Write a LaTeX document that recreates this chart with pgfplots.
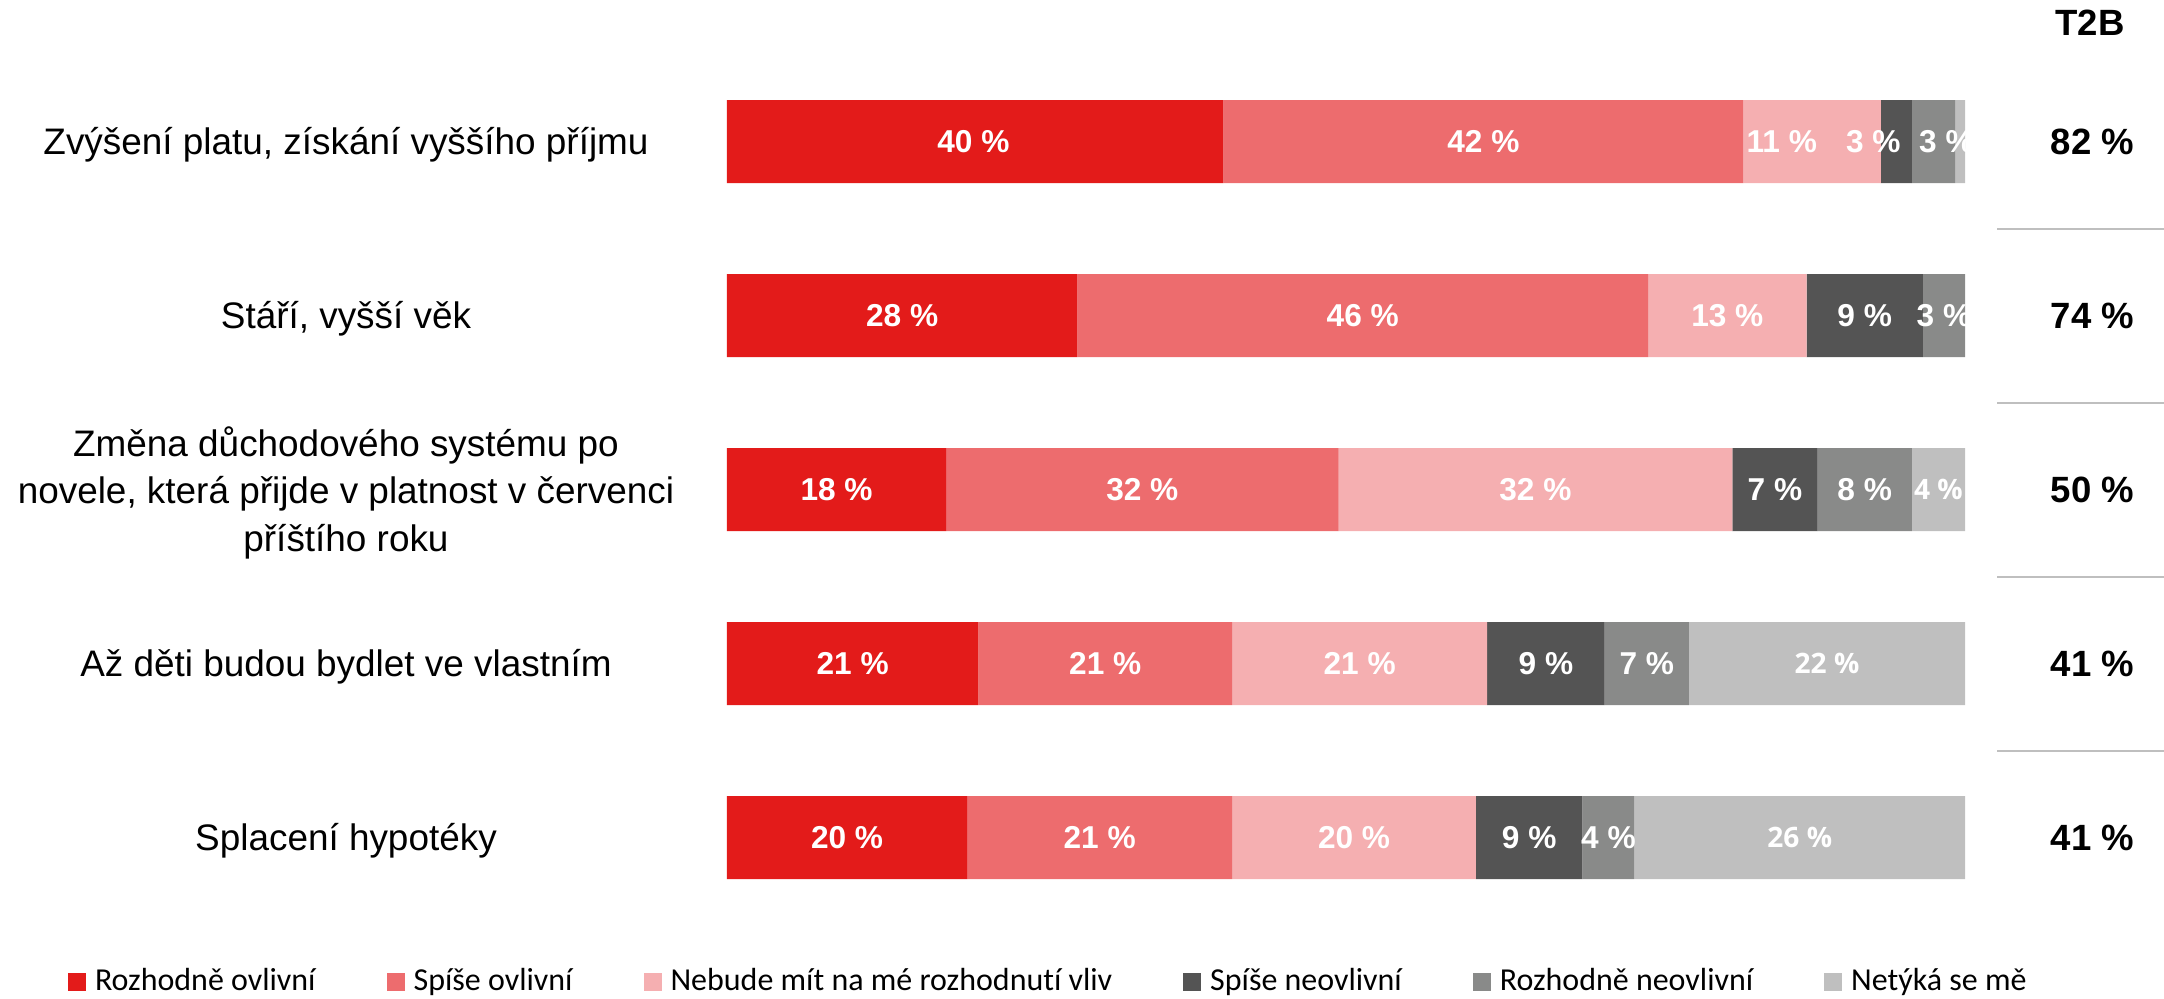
\documentclass[border=0pt]{standalone}
\usepackage{pgfplots}
\pgfplotsset{compat=1.18}
\usepackage{pgfplotstable}
\usepackage{fontspec}
\setmainfont{Liberation Sans}
\newfontfamily\carlito[Ligatures={NoCommon}]{Carlito}
\newfontfamily\osans{Open Sans}
\definecolor{c1}{HTML}{E31B1A}
\definecolor{c2}{HTML}{ED6C6E}
\definecolor{c3}{HTML}{F5AFB1}
\definecolor{c4}{HTML}{545454}
\definecolor{c5}{HTML}{898A89}
\definecolor{c6}{HTML}{BFBFBF}
\tikzset{
  lab/.style={font=\bfseries\fontsize{9}{10}\selectfont, text=white},
  labo/.style={font=\osans\bfseries\fontsize{8}{10}\selectfont, text=white},
  tb/.style={font=\bfseries\fontsize{10.4}{12}\selectfont},
}
\pgfplotsset{
  sq/.style={legend image code/.code={\fill[#1] (0cm,-0.09cm) rectangle (0.18cm,0.09cm); \path (0.27cm,0cm);}},
}
\pgfplotstableread{
y a b c d e f
0 40.1 42.0 11.1 2.5 3.5 0.8
1 28.3 46.1 12.8 9.4 3.4 0.0
2 17.7 31.7 31.8 6.9 7.6 4.3
3 20.3 20.5 20.6 9.5 6.8 22.3
4 19.4 21.4 19.7 8.6 4.2 26.7
}\data
\begin{document}
\begin{tikzpicture}
\useasboundingbox (0,0) rectangle (21.64,-9.98);
\begin{axis}[
  at={(7.27cm,-0.545cm)}, anchor=north west,
  width=12.38cm, height=8.7cm, scale only axis,
  xbar stacked, bar width=0.83cm,
  xmin=0, xmax=100, ymin=-0.5, ymax=4.5, y dir=reverse,
  axis line style={draw=none}, tick style={draw=none},
  xtick=\empty,
  ytick={0,1,2,3,4},
  yticklabels={{Zvýšení platu, získání vyššího příjmu},{Stáří, vyšší věk},{Změna důchodového systému po\\novele, která přijde v platnost v červenci\\příštího roku},{Až děti budou bydlet ve vlastním},{Splacení hypotéky}},
  yticklabel style={anchor=center, xshift=-3.81cm, yshift=-0.03cm, align=center, font=\fontsize{10.5}{13.5}\selectfont},
  legend columns=6,
  legend style={draw=none, fill=none, at={(-0.5323,-0.0661)}, anchor=west, inner sep=0pt, outer sep=0pt,
    font=\carlito\fontsize{9.1}{10}\selectfont,
    nodes={inner sep=0pt, outer sep=0pt},
    /tikz/every even column/.append style={column sep=0.71cm}},
]
\addplot[fill=c1, draw=none, sq=c1] table[x=a,y=y]{\data};
\addlegendentry{Rozhodně ovlivní}
\addplot[fill=c2, draw=none, sq=c2] table[x=b,y=y]{\data};
\addlegendentry{Spíše ovlivní}
\addplot[fill=c3, draw=none, sq=c3] table[x=c,y=y]{\data};
\addlegendentry{Nebude mít na mé rozhodnutí vliv}
\addplot[fill=c4, draw=none, sq=c4] table[x=d,y=y]{\data};
\addlegendentry{Spíše neovlivní}
\addplot[fill=c5, draw=none, sq=c5] table[x=e,y=y]{\data};
\addlegendentry{Rozhodně neovlivní}
\addplot[fill=c6, draw=none, sq=c6] table[x=f,y=y]{\data};
\addlegendentry{Netýká se mě}
\coordinate (cA) at (axis cs:0,-0.5);
\coordinate (cB) at (axis cs:100,4.5);
\coordinate (a1) at (axis cs:19.9,0);
\coordinate (a2) at (axis cs:61.1,0);
\coordinate (a3) at (axis cs:85.2,0);
\coordinate (a4) at (axis cs:92.6,0);
\coordinate (a5) at (axis cs:98.5,0);
\coordinate (b1) at (axis cs:14.15,1);
\coordinate (b2) at (axis cs:51.35,1);
\coordinate (b3) at (axis cs:80.8,1);
\coordinate (b4) at (axis cs:91.9,1);
\coordinate (b5) at (axis cs:98.3,1);
\coordinate (d1) at (axis cs:8.85,2);
\coordinate (d2) at (axis cs:33.55,2);
\coordinate (d3) at (axis cs:65.3,2);
\coordinate (d4) at (axis cs:84.65,2);
\coordinate (d5) at (axis cs:91.9,2);
\coordinate (d6) at (axis cs:97.85,2);
\coordinate (e1) at (axis cs:10.15,3);
\coordinate (e2) at (axis cs:30.55,3);
\coordinate (e3) at (axis cs:51.1,3);
\coordinate (e4) at (axis cs:66.15,3);
\coordinate (e5) at (axis cs:74.3,3);
\coordinate (e6) at (axis cs:88.85,3);
\coordinate (f1) at (axis cs:9.7,4);
\coordinate (f2) at (axis cs:30.1,4);
\coordinate (f3) at (axis cs:50.65,4);
\coordinate (f4) at (axis cs:64.8,4);
\coordinate (f5) at (axis cs:71.2,4);
\coordinate (f6) at (axis cs:86.65,4);
\coordinate (h) at (axis cs:110.1,-0.681);
\coordinate (t0) at (axis cs:110.3,0);
\coordinate (t1) at (axis cs:110.3,1);
\coordinate (t2) at (axis cs:110.3,2);
\coordinate (t3) at (axis cs:110.3,3);
\coordinate (t4) at (axis cs:110.3,4);
\coordinate (s0a) at (axis cs:102.6,0.5);
\coordinate (s1a) at (axis cs:102.6,1.5);
\coordinate (s2a) at (axis cs:102.6,2.5);
\coordinate (s3a) at (axis cs:102.6,3.5);
\coordinate (s0b) at (axis cs:116.1,0.5);
\coordinate (s1b) at (axis cs:116.1,1.5);
\coordinate (s2b) at (axis cs:116.1,2.5);
\coordinate (s3b) at (axis cs:116.1,3.5);
\end{axis}
\begin{scope}
\clip (cA) rectangle (cB);
\node[lab] at (a1) {40 \%};
\node[lab] at (a2) {42 \%};
\node[lab] at (a3) {11 \%};
\node[lab] at (a4) {3 \%};
\node[lab] at (a5) {3 \%};
\node[lab] at (b1) {28 \%};
\node[lab] at (b2) {46 \%};
\node[lab] at (b3) {13 \%};
\node[lab] at (b4) {9 \%};
\node[lab] at (b5) {3 \%};
\node[lab] at (d1) {18 \%};
\node[lab] at (d2) {32 \%};
\node[lab] at (d3) {32 \%};
\node[lab] at (d4) {7 \%};
\node[lab] at (d5) {8 \%};
\node[labo] at (d6) {4 \%};
\node[lab] at (e1) {21 \%};
\node[lab] at (e2) {21 \%};
\node[lab] at (e3) {21 \%};
\node[lab] at (e4) {9 \%};
\node[lab] at (e5) {7 \%};
\node[labo] at (e6) {22 \%};
\node[lab] at (f1) {20 \%};
\node[lab] at (f2) {21 \%};
\node[lab] at (f3) {20 \%};
\node[lab] at (f4) {9 \%};
\node[lab] at (f5) {4 \%};
\node[labo] at (f6) {26 \%};
\end{scope}
\node[tb] at (h) {T2B};
\node[tb] at (t0) {82 \%};
\node[tb] at (t1) {74 \%};
\node[tb] at (t2) {50 \%};
\node[tb] at (t3) {41 \%};
\node[tb] at (t4) {41 \%};
\draw[c6, line width=0.57pt] (s0a) -- (s0b);
\draw[c6, line width=0.57pt] (s1a) -- (s1b);
\draw[c6, line width=0.57pt] (s2a) -- (s2b);
\draw[c6, line width=0.57pt] (s3a) -- (s3b);
\end{tikzpicture}
\end{document}
